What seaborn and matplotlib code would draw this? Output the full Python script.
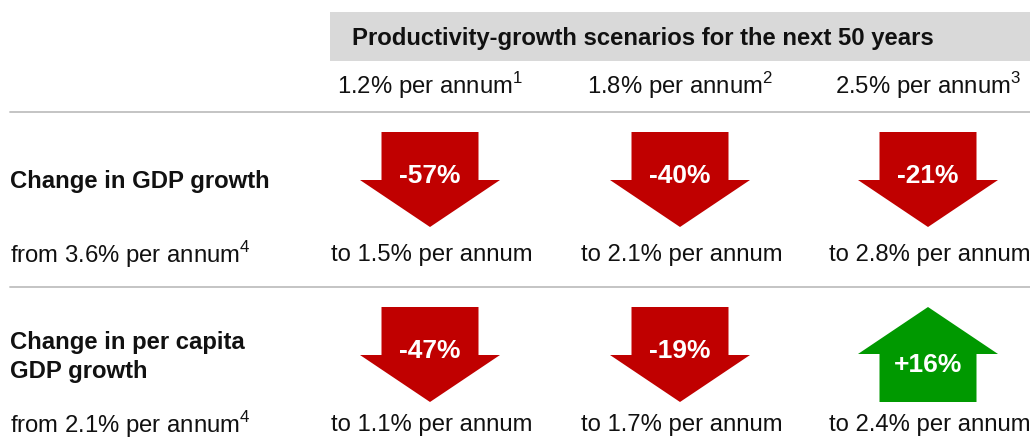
import matplotlib.pyplot as plt
import seaborn as sns

sns.set_theme(style="white")
plt.rcParams['font.family'] = ['Liberation Sans', 'DejaVu Sans']
plt.rcParams['mathtext.fontset'] = 'custom'
plt.rcParams['mathtext.rm'] = 'Liberation Sans'

## data ##
header = "Productivity-growth scenarios for the next 50 years"
scenarios = ["1.2% per annum", "1.8% per annum", "2.5% per annum"]
scenario_notes = [1, 2, 3]

row_titles = ["Change in GDP growth", "Change in per capita\nGDP growth"]
from_rates = [3.6, 2.1]
gdp_change = [-57, -40, -21]
gdp_to = [1.5, 2.1, 2.8]
capita_change = [-47, -19, 16]
capita_to = [1.1, 1.7, 2.4]

## layout (pixels) ##
col_x = [430, 680, 928]
row_arrow_top = [133, 308]
row_arrow_bot = [228, 403]
row_title_y = [182, 357]
row_from_y = [255, 425]
red = '#c00000'
green = '#009900'
fs = 17.2

fig = plt.figure(figsize=(10.3, 4.39), dpi=100)
ax = fig.add_axes([0, 0, 1, 1])
ax.set_xlim(0, 1030)
ax.set_ylim(439, 0)
ax.axis('off')

# header band
ax.fill_between([330, 1030], 13, 62, color='#d9d9d9', lw=0)
ax.text(352, 38, header, fontsize=fs, fontweight='bold', va='center', ha='left', color='#111111')
for x, s, n in zip(col_x, scenarios, scenario_notes):
    ax.text(x, 86, s + r'$^{%d}$' % n, fontsize=fs, ha='center', va='center', color='#111111')

# separators
for y in [113, 288]:
    ax.plot([10, 1030], [y, y], color='#bfbfbf', lw=1.3)


def arrow(cx, top, bot, up, color):
    sw, hw, hl = 48.5, 70, 47
    if up:
        base = top + hl
        xs = [cx, cx + hw, cx + sw, cx + sw, cx - sw, cx - sw, cx - hw]
        ys = [top, base, base, bot, bot, base, base]
    else:
        base = bot - hl
        xs = [cx - sw, cx + sw, cx + sw, cx + hw, cx, cx - hw, cx - sw]
        ys = [top, top, base, base, bot, base, base]
    ax.fill(xs, ys, color=color, lw=0)
    return base


rows = [(gdp_change, gdp_to), (capita_change, capita_to)]
for r, (changes, targets) in enumerate(rows):
    ax.text(10, row_title_y[r], row_titles[r], fontsize=fs, fontweight='bold',
            ha='left', va='center', linespacing=1.3, color='#111111')
    ax.text(10, row_from_y[r], f'from {from_rates[r]}% per annum' + r'$^{4}$',
            fontsize=fs, ha='left', va='center', color='#111111')
    for x, c, t in zip(col_x, changes, targets):
        up = c > 0
        base = arrow(x, row_arrow_top[r], row_arrow_bot[r], up, green if up else red)
        ly = base + 10 if up else base - 5
        ax.text(x, ly, f'{c:+d}%', fontsize=19, fontweight='bold', color='white',
                ha='center', va='center')
        ax.text(x + 2, row_from_y[r], f'to {t}% per annum', fontsize=fs,
                ha='center', va='center', color='#111111')

plt.savefig('out.png', dpi=100)
